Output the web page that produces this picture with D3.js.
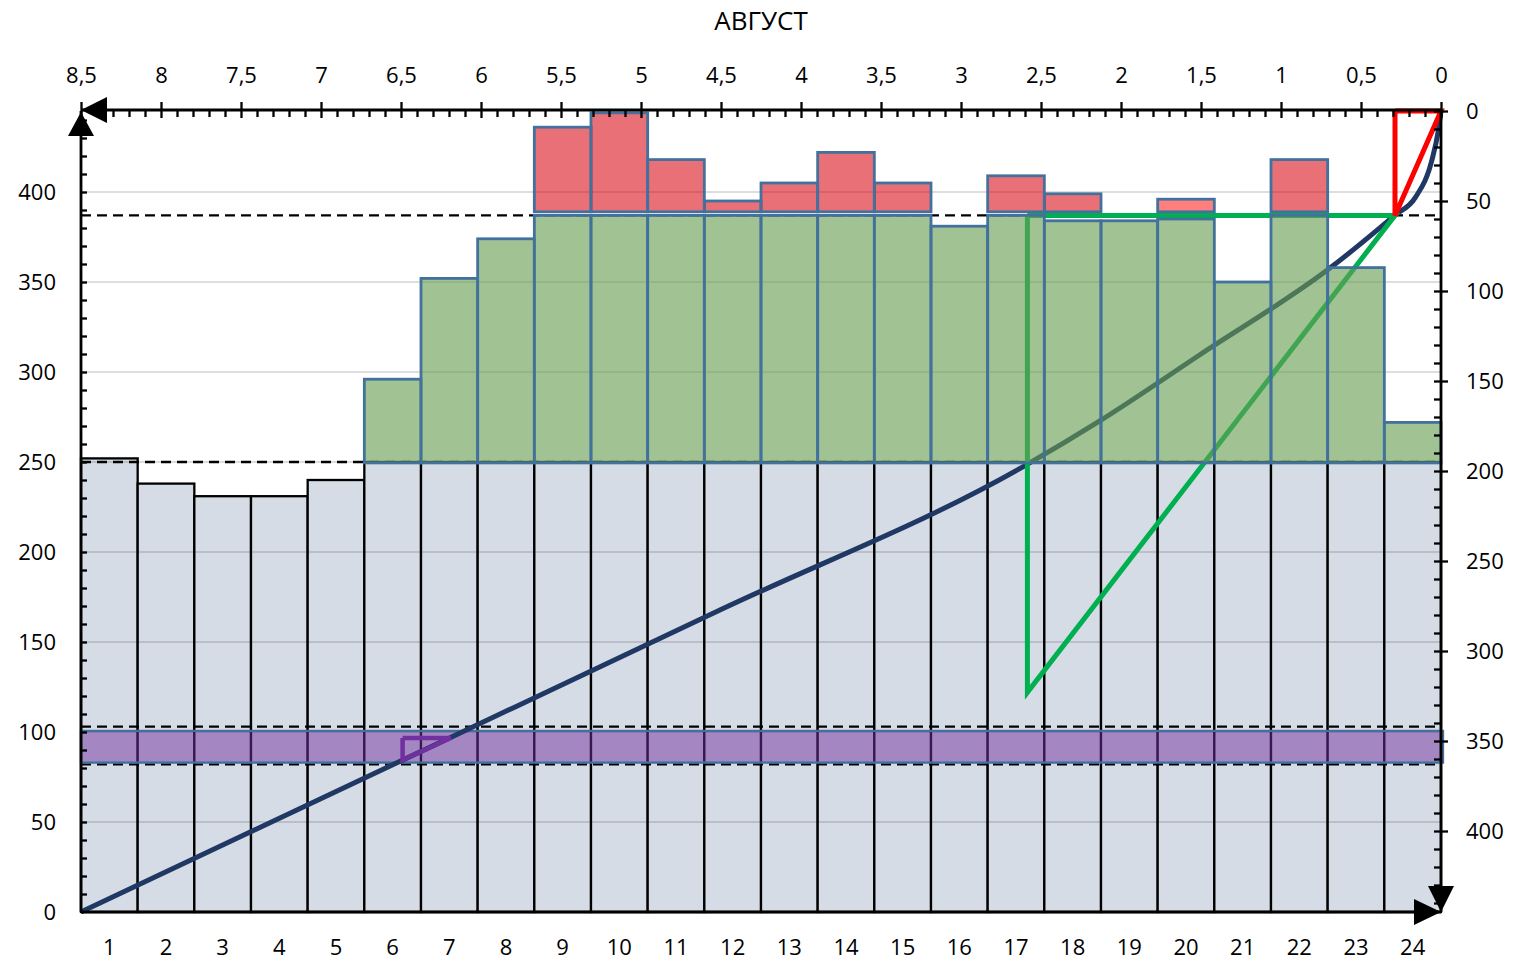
<!DOCTYPE html>
<html>
<head>
<meta charset="utf-8">
<script src="https://cdn.jsdelivr.net/npm/d3@7"></script>
<style>
  html, body { margin: 0; padding: 0; background: #fff; }
  svg text { font-family: "Open Sans", "DejaVu Sans", sans-serif; fill: #000; }
</style>
</head>
<body>
<svg id="chart" width="1518" height="963"></svg>
<script>
// Days of the month (bottom axis)
const days = ["1","2","3","4","5","6","7","8","9","10","11","12","13","14","15","16","17","18","19","20","21","22","23","24"];
// Base level for each day (left axis)
const baseValues = [252, 238, 231, 231, 240, 250, 250, 250, 250, 250, 250, 250, 250, 250, 250, 250, 250, 250, 250, 250, 250, 250, 250, 250];
// Upper level above the 250 mark
const greenFrom = 249.5;
const greenTops = [null, null, null, null, null, 296, 352, 374, 387, 387, 387, 387, 387, 387, 387, 381, 387, 384, 384, 385, 350, 387, 358, 272];
// Excess above the 389 mark
const redFrom = 389;
const redTops = [null, null, null, null, null, null, null, null, 436, 444, 418, 395, 405, 422, 405, null, 409, 399, null, null, null, 418, null, null];
const redTopsLight = [null, null, null, null, null, null, null, null, null, null, null, null, null, null, null, null, null, null, null, 396, null, null, null, null];
// Reference levels (left axis)
const dashedLevels = [387, 250, 103, 82];
const bandLevels = [83, 100.6];
const leftTicks = [0, 50, 100, 150, 200, 250, 300, 350, 400];

// Top/right axes: time and depth
const topTicks = [8.5, 8, 7.5, 7, 6.5, 6, 5.5, 5, 4.5, 4, 3.5, 3, 2.5, 2, 1.5, 1, 0.5, 0];
const rightTicks = [0, 50, 100, 150, 200, 250, 300, 350, 400];
const curveTime  = [8.5, 6.19, 4.5, 2.6, 2.13, 1.5, 0.69, 0.29, 0.16, 0.056, 0.019, 0];
const curveDepth = [445, 348, 277, 197, 172, 135, 87, 58, 48, 27, 12, 0];
const greenTriTime  = [2.585, 2.585, 0.2875, 2.585];
const greenTriDepth = [58, 323, 58, 58];
const redTriTime  = [0.2875, 0.2875, 0, 0.2875];
const redTriDepth = [0, 58, 0, 0];
const purpleTriTime  = [6.49, 6.49, 6.19, 6.49];
const purpleTriDepth = [348.3, 360.6, 348.3, 348.3];

const L = 81, R = 1441, T = 111, B = 912;

const svg = d3.select("#chart");

const x = d3.scaleBand().domain(days).range([L, R]).padding(0);
const yL = d3.scaleLinear().domain([0, 445]).range([B, T]);
const xT = d3.scaleLinear().domain([0, 8.5]).range([R, L]);
const yR = d3.scaleLinear().domain([0, 445]).range([T, B]);

const comma = d => String(d).replace(".", ",");

// Base bars
svg.append("g").selectAll("rect").data(days).join("rect")
  .attr("x", d => x(d))
  .attr("width", x.bandwidth())
  .attr("y", (d, i) => yL(baseValues[i]))
  .attr("height", (d, i) => yL(0) - yL(baseValues[i]))
  .attr("fill", "#D6DCE5")
  .attr("stroke", "#000")
  .attr("stroke-width", 2.3);

// Horizontal gridlines
svg.append("g").selectAll("line").data(leftTicks.filter(v => v > 0)).join("line")
  .attr("x1", L).attr("x2", R)
  .attr("y1", d => yL(d)).attr("y2", d => yL(d))
  .attr("stroke", "#000").attr("stroke-opacity", 0.13).attr("stroke-width", 1.8);

// Dashed reference levels
svg.append("g").selectAll("line").data(dashedLevels).join("line")
  .attr("x1", L).attr("x2", R)
  .attr("y1", d => yL(d)).attr("y2", d => yL(d))
  .attr("stroke", "#000").attr("stroke-width", 2.4).attr("stroke-dasharray", "10,6");

// Horizontal band
svg.append("rect")
  .attr("x", L).attr("width", R - L + 2)
  .attr("y", yL(bandLevels[1]))
  .attr("height", yL(bandLevels[0]) - yL(bandLevels[1]))
  .attr("fill", "#7030A0").attr("fill-opacity", 0.5)
  .attr("stroke", "#41719C").attr("stroke-width", 2.3);

// Curve and green triangle (top/right axes)
const lineTR = d3.line().x(d => xT(d[0])).y(d => yR(d[1]));
svg.append("path")
  .datum(d3.zip(curveTime, curveDepth))
  .attr("d", lineTR.curve(d3.curveMonotoneX))
  .attr("fill", "none").attr("stroke", "#203864").attr("stroke-width", 5);

const polyTR = d3.line().x(d => xT(d[0])).y(d => yR(d[1]));
svg.append("path")
  .datum(d3.zip(greenTriTime, greenTriDepth))
  .attr("d", polyTR)
  .attr("fill", "none").attr("stroke", "#00B050").attr("stroke-width", 5)
  .attr("stroke-linejoin", "miter");

// Upper (green) bars
const gIdx = greenTops.map((v, i) => i).filter(i => greenTops[i] !== null);
svg.append("g").selectAll("rect").data(gIdx).join("rect")
  .attr("x", i => x(days[i]))
  .attr("width", x.bandwidth())
  .attr("y", i => yL(greenTops[i]))
  .attr("height", i => yL(greenFrom) - yL(greenTops[i]))
  .attr("fill", "rgb(103,158,82)").attr("fill-opacity", 0.62)
  .attr("stroke", "#41719C").attr("stroke-width", 2.8);

// Excess (red) bars
const rIdx = redTops.map((v, i) => i).filter(i => redTops[i] !== null);
svg.append("g").selectAll("rect").data(rIdx).join("rect")
  .attr("x", i => x(days[i]))
  .attr("width", x.bandwidth())
  .attr("y", i => yL(redTops[i]))
  .attr("height", i => yL(redFrom) - yL(redTops[i]))
  .attr("fill", "rgb(218,0,14)").attr("fill-opacity", 0.56)
  .attr("stroke", "#41719C").attr("stroke-width", 2.8);

const rlIdx = redTopsLight.map((v, i) => i).filter(i => redTopsLight[i] !== null);
svg.append("g").selectAll("rect").data(rlIdx).join("rect")
  .attr("x", i => x(days[i]))
  .attr("width", x.bandwidth())
  .attr("y", i => yL(redTopsLight[i]))
  .attr("height", i => yL(redFrom) - yL(redTopsLight[i]))
  .attr("fill", "#FF0000").attr("fill-opacity", 0.5)
  .attr("stroke", "#41719C").attr("stroke-width", 2.8);

// Red and purple triangles
svg.append("path")
  .datum(d3.zip(redTriTime, redTriDepth))
  .attr("d", polyTR)
  .attr("fill", "none").attr("stroke", "#FF0000").attr("stroke-width", 5);
svg.append("path")
  .datum(d3.zip(purpleTriTime, purpleTriDepth))
  .attr("d", polyTR)
  .attr("fill", "none").attr("stroke", "#7030A0").attr("stroke-width", 4.5);

// ---- Axes ----
const axisStroke = g => {
  g.select(".domain").remove();
  g.selectAll("line").attr("stroke", "#000").attr("stroke-width", 2.3);
  g.selectAll("text").attr("font-size", 22);
};

// Top axis
const topMinor = d3.range(0, 86).map(k => k / 10).filter(v => Math.abs(v * 2 - Math.round(v * 2)) > 1e-6);
svg.append("g").attr("transform", `translate(0,${T})`)
  .call(d3.axisTop(xT).tickValues(topTicks).tickFormat(comma).tickSize(9).tickPadding(19))
  .call(axisStroke);
svg.append("g").attr("transform", `translate(0,${T})`)
  .call(d3.axisTop(xT).tickValues(topTicks).tickFormat("").tickSize(-7))
  .call(axisStroke);
svg.append("g").attr("transform", `translate(0,${T})`)
  .call(d3.axisTop(xT).tickValues(topMinor).tickFormat("").tickSize(-6))
  .call(axisStroke);

// Left axis
svg.append("g").attr("transform", `translate(${L},0)`)
  .call(d3.axisLeft(yL).tickValues(leftTicks).tickSize(0).tickPadding(25))
  .call(axisStroke);
svg.append("g").attr("transform", `translate(${L},0)`)
  .call(d3.axisLeft(yL).tickValues(d3.range(10, 450, 10)).tickFormat("").tickSize(-6))
  .call(axisStroke);

// Right axis
svg.append("g").attr("transform", `translate(${R},0)`)
  .call(d3.axisRight(yR).tickValues(rightTicks).tickSize(7).tickPadding(18))
  .call(axisStroke);
svg.append("g").attr("transform", `translate(${R},0)`)
  .call(d3.axisRight(yR).tickValues(d3.range(0, 450, 10)).tickFormat("").tickSize(-7))
  .call(axisStroke);

// Bottom axis
svg.append("g").attr("transform", `translate(0,${B})`)
  .call(d3.axisBottom(x).tickSize(0).tickPadding(27))
  .call(axisStroke);

// Axis lines
const axisLines = [
  [L, T - 1, R, T - 1],
  [L, T, L, B],
  [R, T - 1, R, B],
  [L, B, R, B]
];
svg.append("g").selectAll("line").data(axisLines).join("line")
  .attr("x1", d => d[0]).attr("y1", d => d[1])
  .attr("x2", d => d[2]).attr("y2", d => d[3])
  .attr("stroke", "#000").attr("stroke-width", 2.8);

// Arrowheads
const arrows = [
  [[L, T - 1], [L + 26, T - 14], [L + 26, T + 12]],   // top axis, pointing left
  [[L, T + 1], [L - 13, T + 25], [L + 13, T + 25]],   // left axis, pointing up
  [[R, B], [R - 27, B - 13], [R - 27, B + 13]],       // bottom axis, pointing right
  [[R, B], [R - 13, B - 26], [R + 13, B - 26]]        // right axis, pointing down
];
svg.append("g").selectAll("path").data(arrows).join("path")
  .attr("d", d => "M" + d.map(p => p.join(",")).join("L") + "Z")
  .attr("fill", "#000");

// Title
svg.append("text")
  .attr("x", (L + R) / 2).attr("y", 30)
  .attr("text-anchor", "middle")
  .attr("font-size", 26)
  .text("АВГУСТ");
</script>
</body>
</html>
